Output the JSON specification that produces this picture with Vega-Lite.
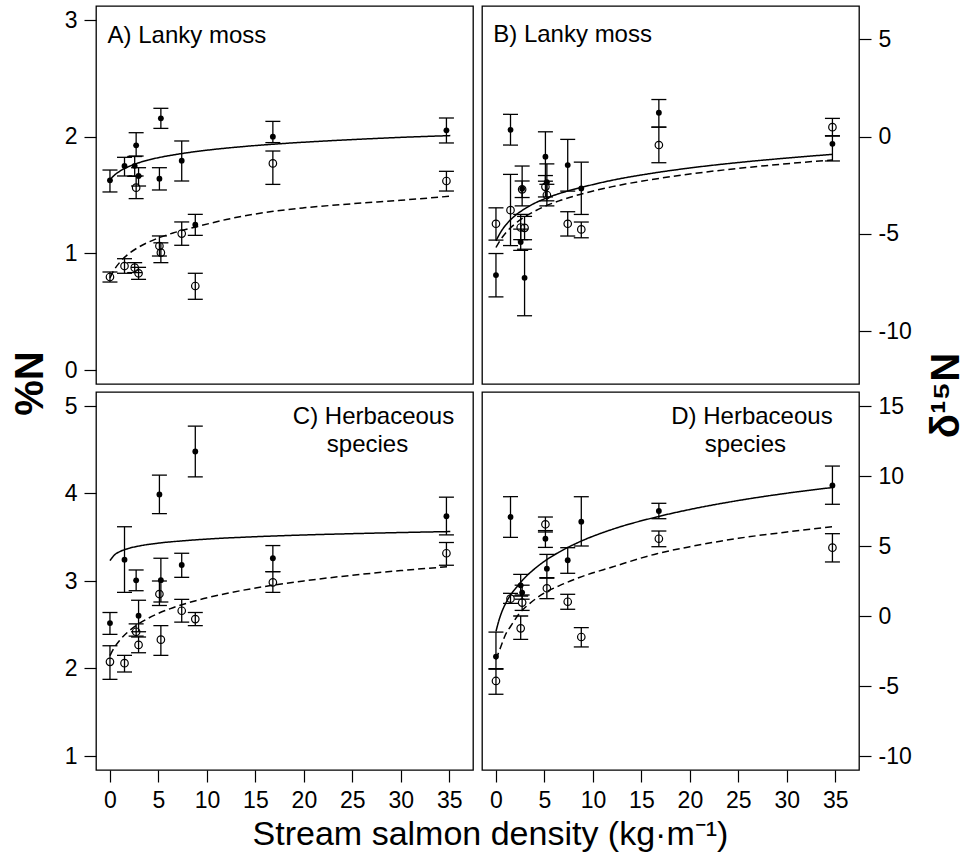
{
"$schema": "https://vega.github.io/schema/vega-lite/v6.json",
"background": "white",
"padding": {"left": 9, "top": 5, "right": 0, "bottom": 0},
"config": {
 "font": "Liberation Sans",
 "view": {"stroke": "black", "strokeWidth": 1.3},
 "axis": {"domain": false, "grid": false, "tickSize": 12, "tickWidth": 1.2, "tickColor": "black", "labelFontSize": 23, "labelColor": "black", "labelFont": "Liberation Sans", "labelPadding": 7, "labelFlush": false, "labelOverlap": false, "titleColor": "black", "titleFont": "Liberation Sans"}
},
"datasets": {
 "pts": [
  {"panel":"A","series":"f","density":0,"value":1.626,"low":1.526,"high":1.714},
  {"panel":"A","series":"f","density":1.5,"value":1.749,"low":1.663,"high":1.823},
  {"panel":"A","series":"f","density":2.55,"value":1.75,"low":1.66,"high":1.83},
  {"panel":"A","series":"f","density":2.7,"value":1.926,"low":1.834,"high":2.034},
  {"panel":"A","series":"f","density":2.95,"value":1.663,"low":1.577,"high":1.734},
  {"panel":"A","series":"f","density":5.1,"value":1.64,"low":1.543,"high":1.734},
  {"panel":"A","series":"f","density":5.25,"value":2.157,"low":2.071,"high":2.243},
  {"panel":"A","series":"f","density":7.4,"value":1.794,"low":1.62,"high":1.963},
  {"panel":"A","series":"f","density":8.8,"value":1.246,"low":1.154,"high":1.334},
  {"panel":"A","series":"f","density":16.8,"value":2.0,"low":1.949,"high":2.131},
  {"panel":"A","series":"f","density":34.7,"value":2.054,"low":1.946,"high":2.16},
  {"panel":"A","series":"o","density":0,"value":0.797,"low":0.754,"high":0.84},
  {"panel":"A","series":"o","density":1.5,"value":0.891,"low":0.829,"high":0.954},
  {"panel":"A","series":"o","density":2.55,"value":0.877,"low":0.835,"high":0.92},
  {"panel":"A","series":"o","density":2.7,"value":1.563,"low":1.469,"high":1.663},
  {"panel":"A","series":"o","density":2.95,"value":0.829,"low":0.777,"high":0.88},
  {"panel":"A","series":"o","density":5.1,"value":1.063,"low":0.977,"high":1.149},
  {"panel":"A","series":"o","density":5.25,"value":1.006,"low":0.92,"high":1.09},
  {"panel":"A","series":"o","density":7.4,"value":1.169,"low":1.069,"high":1.269},
  {"panel":"A","series":"o","density":8.8,"value":0.72,"low":0.606,"high":0.829},
  {"panel":"A","series":"o","density":16.8,"value":1.771,"low":1.591,"high":1.877},
  {"panel":"A","series":"o","density":34.7,"value":1.62,"low":1.534,"high":1.703},

  {"panel":"B","series":"f","density":0,"value":-7.12,"low":-8.24,"high":-6.01},
  {"panel":"B","series":"f","density":1.5,"value":0.35,"low":-0.43,"high":1.15},
  {"panel":"B","series":"f","density":2.55,"value":-5.42,"low":-5.85,"high":-4.75},
  {"panel":"B","series":"f","density":2.7,"value":-2.68,"low":-3.56,"high":-1.51},
  {"panel":"B","series":"f","density":2.95,"value":-7.26,"low":-9.21,"high":-5.79},
  {"panel":"B","series":"f","density":5.1,"value":-1.03,"low":-2.29,"high":0.25},
  {"panel":"B","series":"f","density":5.25,"value":-2.34,"low":-3.3,"high":-1.4},
  {"panel":"B","series":"f","density":7.4,"value":-1.46,"low":-2.8,"high":-0.14},
  {"panel":"B","series":"f","density":8.8,"value":-2.66,"low":-4.0,"high":-1.31},
  {"panel":"B","series":"f","density":16.8,"value":1.23,"low":0.49,"high":1.91},
  {"panel":"B","series":"f","density":34.7,"value":-0.37,"low":-1.25,"high":0.05},
  {"panel":"B","series":"o","density":0,"value":-4.48,"low":-5.32,"high":-3.66},
  {"panel":"B","series":"o","density":1.5,"value":-3.78,"low":-5.6,"high":-1.94},
  {"panel":"B","series":"o","density":2.55,"value":-4.67,"low":-5.3,"high":-4.0},
  {"panel":"B","series":"o","density":2.7,"value":-2.71,"low":-3.13,"high":-2.28},
  {"panel":"B","series":"o","density":2.95,"value":-4.69,"low":-5.3,"high":-4.1},
  {"panel":"B","series":"o","density":5.1,"value":-2.58,"low":-3.1,"high":-2.0},
  {"panel":"B","series":"o","density":5.25,"value":-3.0,"low":-3.56,"high":-2.45},
  {"panel":"B","series":"o","density":7.4,"value":-4.48,"low":-5.11,"high":-3.86},
  {"panel":"B","series":"o","density":8.8,"value":-4.77,"low":-5.2,"high":-4.39},
  {"panel":"B","series":"o","density":16.8,"value":-0.43,"low":-1.34,"high":0.49},
  {"panel":"B","series":"o","density":34.7,"value":0.49,"low":0.03,"high":0.94},

  {"panel":"C","series":"f","density":0,"value":2.519,"low":2.39,"high":2.64},
  {"panel":"C","series":"f","density":1.5,"value":3.244,"low":2.87,"high":3.62},
  {"panel":"C","series":"f","density":2.7,"value":3.008,"low":2.889,"high":3.126},
  {"panel":"C","series":"f","density":2.95,"value":2.603,"low":2.42,"high":2.78},
  {"panel":"C","series":"f","density":5.1,"value":3.989,"low":3.77,"high":4.21},
  {"panel":"C","series":"f","density":5.25,"value":3.01,"low":2.76,"high":3.26},
  {"panel":"C","series":"f","density":7.4,"value":3.183,"low":3.042,"high":3.317},
  {"panel":"C","series":"f","density":8.8,"value":4.48,"low":4.19,"high":4.77},
  {"panel":"C","series":"f","density":16.8,"value":3.26,"low":3.107,"high":3.405},
  {"panel":"C","series":"f","density":34.7,"value":3.74,"low":3.527,"high":3.958},
  {"panel":"C","series":"o","density":0,"value":2.076,"low":1.876,"high":2.26},
  {"panel":"C","series":"o","density":1.5,"value":2.061,"low":1.96,"high":2.15},
  {"panel":"C","series":"o","density":2.7,"value":2.42,"low":2.37,"high":2.51},
  {"panel":"C","series":"o","density":2.95,"value":2.27,"low":2.18,"high":2.36},
  {"panel":"C","series":"o","density":5.1,"value":2.851,"low":2.72,"high":3.0},
  {"panel":"C","series":"o","density":5.25,"value":2.33,"low":2.15,"high":2.49},
  {"panel":"C","series":"o","density":7.4,"value":2.66,"low":2.53,"high":2.79},
  {"panel":"C","series":"o","density":8.8,"value":2.565,"low":2.49,"high":2.64},
  {"panel":"C","series":"o","density":16.8,"value":2.985,"low":2.87,"high":3.107},
  {"panel":"C","series":"o","density":34.7,"value":3.317,"low":3.18,"high":3.44},

  {"panel":"D","series":"f","density":0,"value":-2.9,"low":-3.8,"high":-1.15},
  {"panel":"D","series":"f","density":1.5,"value":7.07,"low":5.62,"high":8.52},
  {"panel":"D","series":"f","density":2.55,"value":2.19,"low":1.43,"high":2.98},
  {"panel":"D","series":"f","density":2.7,"value":1.67,"low":1.2,"high":2.2},
  {"panel":"D","series":"f","density":5.1,"value":5.52,"low":4.9,"high":6.1},
  {"panel":"D","series":"f","density":5.25,"value":3.38,"low":2.7,"high":4.4},
  {"panel":"D","series":"f","density":7.4,"value":3.98,"low":3.05,"high":4.88},
  {"panel":"D","series":"f","density":8.8,"value":6.74,"low":5.0,"high":8.52},
  {"panel":"D","series":"f","density":16.8,"value":7.5,"low":6.95,"high":8.05},
  {"panel":"D","series":"f","density":34.7,"value":9.33,"low":7.98,"high":10.71},
  {"panel":"D","series":"o","density":0,"value":-4.64,"low":-5.59,"high":-3.76},
  {"panel":"D","series":"o","density":1.5,"value":1.24,"low":0.9,"high":1.62},
  {"panel":"D","series":"o","density":2.55,"value":-0.88,"low":-1.67,"high":0.0},
  {"panel":"D","series":"o","density":2.7,"value":0.96,"low":0.4,"high":1.5},
  {"panel":"D","series":"o","density":5.1,"value":6.55,"low":6.0,"high":7.07},
  {"panel":"D","series":"o","density":5.25,"value":1.98,"low":1.24,"high":2.74},
  {"panel":"D","series":"o","density":7.4,"value":1.02,"low":0.48,"high":1.55},
  {"panel":"D","series":"o","density":8.8,"value":-1.5,"low":-2.21,"high":-0.83},
  {"panel":"D","series":"o","density":16.8,"value":5.52,"low":4.95,"high":6.07},
  {"panel":"D","series":"o","density":34.7,"value":4.88,"low":3.86,"high":5.88}
 ],
 "fit": [
  {"panel":"A","series":"f","density":0,"value":1.63},{"panel":"A","series":"f","density":0.5,"value":1.673},{"panel":"A","series":"f","density":1,"value":1.703},{"panel":"A","series":"f","density":2,"value":1.746},{"panel":"A","series":"f","density":3,"value":1.777},{"panel":"A","series":"f","density":4,"value":1.801},{"panel":"A","series":"f","density":5,"value":1.82},{"panel":"A","series":"f","density":7,"value":1.85},{"panel":"A","series":"f","density":10,"value":1.884},{"panel":"A","series":"f","density":14,"value":1.917},{"panel":"A","series":"f","density":18,"value":1.942},{"panel":"A","series":"f","density":22,"value":1.962},{"panel":"A","series":"f","density":26,"value":1.979},{"panel":"A","series":"f","density":30,"value":1.994},{"panel":"A","series":"f","density":35.1,"value":2.009},
  {"panel":"A","series":"o","density":0,"value":0.79},{"panel":"A","series":"o","density":0.5,"value":0.867},{"panel":"A","series":"o","density":1,"value":0.922},{"panel":"A","series":"o","density":2,"value":1.0},{"panel":"A","series":"o","density":3,"value":1.055},{"panel":"A","series":"o","density":4,"value":1.097},{"panel":"A","series":"o","density":5,"value":1.132},{"panel":"A","series":"o","density":6.5,"value":1.174},{"panel":"A","series":"o","density":8.85,"value":1.226},{"panel":"A","series":"o","density":12,"value":1.29},{"panel":"A","series":"o","density":16.84,"value":1.36},{"panel":"A","series":"o","density":20,"value":1.39},{"panel":"A","series":"o","density":25,"value":1.425},{"panel":"A","series":"o","density":30,"value":1.455},{"panel":"A","series":"o","density":35.1,"value":1.49},
  {"panel":"B","series":"f","density":0,"value":-5.36},{"panel":"B","series":"f","density":0.5,"value":-4.9},{"panel":"B","series":"f","density":1,"value":-4.55},{"panel":"B","series":"f","density":2,"value":-4.05},{"panel":"B","series":"f","density":3,"value":-3.7},{"panel":"B","series":"f","density":4,"value":-3.42},{"panel":"B","series":"f","density":5,"value":-3.2},{"panel":"B","series":"f","density":6.5,"value":-2.93},{"panel":"B","series":"f","density":8.66,"value":-2.63},{"panel":"B","series":"f","density":12,"value":-2.24},{"panel":"B","series":"f","density":16,"value":-1.89},{"panel":"B","series":"f","density":20,"value":-1.61},{"panel":"B","series":"f","density":25,"value":-1.33},{"panel":"B","series":"f","density":30,"value":-1.1},{"panel":"B","series":"f","density":34.7,"value":-0.91},
  {"panel":"B","series":"o","density":0,"value":-5.7},{"panel":"B","series":"o","density":0.5,"value":-5.28},{"panel":"B","series":"o","density":1,"value":-4.95},{"panel":"B","series":"o","density":2,"value":-4.47},{"panel":"B","series":"o","density":3,"value":-4.11},{"panel":"B","series":"o","density":4,"value":-3.83},{"panel":"B","series":"o","density":5,"value":-3.59},{"panel":"B","series":"o","density":6.5,"value":-3.3},{"panel":"B","series":"o","density":8.66,"value":-2.97},{"panel":"B","series":"o","density":12,"value":-2.57},{"panel":"B","series":"o","density":16,"value":-2.21},{"panel":"B","series":"o","density":20,"value":-1.92},{"panel":"B","series":"o","density":25,"value":-1.63},{"panel":"B","series":"o","density":30,"value":-1.39},{"panel":"B","series":"o","density":34.7,"value":-1.2},
  {"panel":"C","series":"f","density":0,"value":3.233},{"panel":"C","series":"f","density":0.5,"value":3.301},{"panel":"C","series":"f","density":1,"value":3.335},{"panel":"C","series":"f","density":2,"value":3.375},{"panel":"C","series":"f","density":3,"value":3.4},{"panel":"C","series":"f","density":5,"value":3.433},{"panel":"C","series":"f","density":7.5,"value":3.459},{"panel":"C","series":"f","density":10,"value":3.479},{"panel":"C","series":"f","density":15,"value":3.506},{"panel":"C","series":"f","density":20,"value":3.526},{"panel":"C","series":"f","density":25,"value":3.541},{"panel":"C","series":"f","density":30,"value":3.554},{"panel":"C","series":"f","density":35.1,"value":3.565},
  {"panel":"C","series":"o","density":0,"value":2.148},{"panel":"C","series":"o","density":0.5,"value":2.248},{"panel":"C","series":"o","density":1,"value":2.322},{"panel":"C","series":"o","density":2,"value":2.432},{"panel":"C","series":"o","density":3,"value":2.513},{"panel":"C","series":"o","density":4,"value":2.577},{"panel":"C","series":"o","density":5,"value":2.63},{"panel":"C","series":"o","density":6.5,"value":2.695},{"panel":"C","series":"o","density":8.85,"value":2.775},{"panel":"C","series":"o","density":12,"value":2.857},{"panel":"C","series":"o","density":16,"value":2.938},{"panel":"C","series":"o","density":20,"value":3.001},{"panel":"C","series":"o","density":25,"value":3.066},{"panel":"C","series":"o","density":30,"value":3.119},{"panel":"C","series":"o","density":35.1,"value":3.165},
  {"panel":"D","series":"f","density":0,"value":-1.11},{"panel":"D","series":"f","density":0.25,"value":-0.45},{"panel":"D","series":"f","density":0.5,"value":0.1},{"panel":"D","series":"f","density":1,"value":0.9},{"panel":"D","series":"f","density":1.5,"value":1.5},{"panel":"D","series":"f","density":2,"value":1.95},{"panel":"D","series":"f","density":3,"value":2.75},{"panel":"D","series":"f","density":4,"value":3.38},{"panel":"D","series":"f","density":5,"value":3.91},{"panel":"D","series":"f","density":6.5,"value":4.56},{"panel":"D","series":"f","density":8.6,"value":5.29},{"panel":"D","series":"f","density":12,"value":6.19},{"panel":"D","series":"f","density":16.6,"value":7.08},{"panel":"D","series":"f","density":20,"value":7.61},{"panel":"D","series":"f","density":25,"value":8.25},{"panel":"D","series":"f","density":30,"value":8.77},{"panel":"D","series":"f","density":34.6,"value":9.17},
  {"panel":"D","series":"o","density":0,"value":-3.1},{"panel":"D","series":"o","density":0.5,"value":-2.2},{"panel":"D","series":"o","density":1,"value":-1.3},{"panel":"D","series":"o","density":1.5,"value":-0.75},{"panel":"D","series":"o","density":2.5,"value":0.25},{"panel":"D","series":"o","density":3.5,"value":0.9},{"panel":"D","series":"o","density":5,"value":1.65},{"panel":"D","series":"o","density":6.5,"value":2.15},{"panel":"D","series":"o","density":8.6,"value":2.75},{"panel":"D","series":"o","density":12,"value":3.5},{"panel":"D","series":"o","density":16.6,"value":4.45},{"panel":"D","series":"o","density":20,"value":4.95},{"panel":"D","series":"o","density":25,"value":5.55},{"panel":"D","series":"o","density":30,"value":6.0},{"panel":"D","series":"o","density":35,"value":6.4}
 ]
},
"columns": 2,
"bounds": "flush",
"spacing": {"row": 8, "column": 9},
"concat": [
 {
  "width": 377, "height": 378,
  "encoding": {
   "x": {"field": "density", "type": "quantitative", "scale": {"domain": [-1.44, 37.44], "nice": false, "zero": false}, "axis": null}
  },
  "layer": [
   {"data": {"name": "fit"}, "transform": [{"filter": "datum.panel === 'A'"}],
    "mark": {"type": "line", "color": "black", "strokeWidth": 1.5, "interpolate": "monotone"},
    "encoding": {"y": {"field": "value", "type": "quantitative", "scale": {"domain": [-0.12, 3.12], "nice": false, "zero": false}, "axis": {"values": [0,1,2,3], "labelExpr": "'' + datum.value", "title": "%N", "titleFontSize": 40, "titleFontWeight": "bold", "titleAngle": 270, "titleAlign": "center", "titleBaseline": "middle", "titleX": -66, "titleY": 377}},
     "strokeDash": {"field": "series", "type": "nominal", "scale": {"domain": ["f","o"], "range": [[1,0],[7,4]]}, "legend": null}}},
   {"data": {"name": "pts"}, "transform": [{"filter": "datum.panel === 'A'"}],
    "mark": {"type": "rule", "color": "black", "strokeWidth": 1.3},
    "encoding": {"y": {"field": "low", "type": "quantitative", "scale": {"domain": [-0.12, 3.12], "nice": false, "zero": false}, "axis": {"values": [0,1,2,3], "labelExpr": "'' + datum.value", "title": "%N", "titleFontSize": 40, "titleFontWeight": "bold", "titleAngle": 270, "titleAlign": "center", "titleBaseline": "middle", "titleX": -66, "titleY": 377}}, "y2": {"field": "high"}}},
   {"data": {"name": "pts"}, "transform": [{"filter": "datum.panel === 'A'"}],
    "mark": {"type": "tick", "orient": "horizontal", "size": 15, "thickness": 1.3, "color": "black", "opacity": 1},
    "encoding": {"y": {"field": "low", "type": "quantitative", "scale": {"domain": [-0.12, 3.12], "nice": false, "zero": false}, "axis": {"values": [0,1,2,3], "labelExpr": "'' + datum.value", "title": "%N", "titleFontSize": 40, "titleFontWeight": "bold", "titleAngle": 270, "titleAlign": "center", "titleBaseline": "middle", "titleX": -66, "titleY": 377}}}},
   {"data": {"name": "pts"}, "transform": [{"filter": "datum.panel === 'A'"}],
    "mark": {"type": "tick", "orient": "horizontal", "size": 15, "thickness": 1.3, "color": "black", "opacity": 1},
    "encoding": {"y": {"field": "high", "type": "quantitative", "scale": {"domain": [-0.12, 3.12], "nice": false, "zero": false}, "axis": {"values": [0,1,2,3], "labelExpr": "'' + datum.value", "title": "%N", "titleFontSize": 40, "titleFontWeight": "bold", "titleAngle": 270, "titleAlign": "center", "titleBaseline": "middle", "titleX": -66, "titleY": 377}}}},
   {"data": {"name": "pts"}, "transform": [{"filter": "datum.panel === 'A' && datum.series === 'f'"}],
    "mark": {"type": "point", "shape": "circle", "filled": true, "size": 34, "color": "black", "opacity": 1},
    "encoding": {"y": {"field": "value", "type": "quantitative", "scale": {"domain": [-0.12, 3.12], "nice": false, "zero": false}, "axis": {"values": [0,1,2,3], "labelExpr": "'' + datum.value", "title": "%N", "titleFontSize": 40, "titleFontWeight": "bold", "titleAngle": 270, "titleAlign": "center", "titleBaseline": "middle", "titleX": -66, "titleY": 377}}}},
   {"data": {"name": "pts"}, "transform": [{"filter": "datum.panel === 'A' && datum.series === 'o'"}],
    "mark": {"type": "point", "shape": "circle", "filled": false, "size": 56, "strokeWidth": 1.2, "color": "black", "opacity": 1},
    "encoding": {"y": {"field": "value", "type": "quantitative", "scale": {"domain": [-0.12, 3.12], "nice": false, "zero": false}, "axis": {"values": [0,1,2,3], "labelExpr": "'' + datum.value", "title": "%N", "titleFontSize": 40, "titleFontWeight": "bold", "titleAngle": 270, "titleAlign": "center", "titleBaseline": "middle", "titleX": -66, "titleY": 377}}}},
   {"data": {"name": "pts"}, "transform": [{"filter": "datum.panel === 'A' && datum.series === 'f' && datum.density === 0"}],
    "mark": {"type": "text", "align": "left", "baseline": "alphabetic", "fontSize": 24, "font": "Liberation Sans", "color": "black", "opacity": 1},
    "encoding": {"x": {"datum": -0.25, "type": "quantitative"},
     "y": {"datum": 2.8, "type": "quantitative"},
     "text": {"value": "A) Lanky moss"}}}
  ]
 },
 {
  "width": 377, "height": 378,
  "encoding": {
   "x": {"field": "density", "type": "quantitative", "scale": {"domain": [-1.44, 37.44], "nice": false, "zero": false}, "axis": null}
  },
  "layer": [
   {"data": {"name": "fit"}, "transform": [{"filter": "datum.panel === 'B'"}],
    "mark": {"type": "line", "color": "black", "strokeWidth": 1.5, "interpolate": "monotone"},
    "encoding": {"y": {"field": "value", "type": "quantitative", "scale": {"domain": [-12.72, 6.72], "nice": false, "zero": false}, "axis": {"orient": "right", "values": [-10,-5,0,5], "labelExpr": "datum.value < 0 ? '-' + (-datum.value) : '' + datum.value", "title": "δ¹⁵N", "titleFontSize": 40, "titleFontWeight": "bold", "titleAngle": 270, "titleAlign": "center", "titleBaseline": "middle", "titleX": 87, "titleY": 389}},
     "strokeDash": {"field": "series", "type": "nominal", "scale": {"domain": ["f","o"], "range": [[1,0],[7,4]]}, "legend": null}}},
   {"data": {"name": "pts"}, "transform": [{"filter": "datum.panel === 'B'"}],
    "mark": {"type": "rule", "color": "black", "strokeWidth": 1.3},
    "encoding": {"y": {"field": "low", "type": "quantitative", "scale": {"domain": [-12.72, 6.72], "nice": false, "zero": false}, "axis": {"orient": "right", "values": [-10,-5,0,5], "labelExpr": "datum.value < 0 ? '-' + (-datum.value) : '' + datum.value", "title": "δ¹⁵N", "titleFontSize": 40, "titleFontWeight": "bold", "titleAngle": 270, "titleAlign": "center", "titleBaseline": "middle", "titleX": 87, "titleY": 389}}, "y2": {"field": "high"}}},
   {"data": {"name": "pts"}, "transform": [{"filter": "datum.panel === 'B'"}],
    "mark": {"type": "tick", "orient": "horizontal", "size": 15, "thickness": 1.3, "color": "black", "opacity": 1},
    "encoding": {"y": {"field": "low", "type": "quantitative", "scale": {"domain": [-12.72, 6.72], "nice": false, "zero": false}, "axis": {"orient": "right", "values": [-10,-5,0,5], "labelExpr": "datum.value < 0 ? '-' + (-datum.value) : '' + datum.value", "title": "δ¹⁵N", "titleFontSize": 40, "titleFontWeight": "bold", "titleAngle": 270, "titleAlign": "center", "titleBaseline": "middle", "titleX": 87, "titleY": 389}}}},
   {"data": {"name": "pts"}, "transform": [{"filter": "datum.panel === 'B'"}],
    "mark": {"type": "tick", "orient": "horizontal", "size": 15, "thickness": 1.3, "color": "black", "opacity": 1},
    "encoding": {"y": {"field": "high", "type": "quantitative", "scale": {"domain": [-12.72, 6.72], "nice": false, "zero": false}, "axis": {"orient": "right", "values": [-10,-5,0,5], "labelExpr": "datum.value < 0 ? '-' + (-datum.value) : '' + datum.value", "title": "δ¹⁵N", "titleFontSize": 40, "titleFontWeight": "bold", "titleAngle": 270, "titleAlign": "center", "titleBaseline": "middle", "titleX": 87, "titleY": 389}}}},
   {"data": {"name": "pts"}, "transform": [{"filter": "datum.panel === 'B' && datum.series === 'f'"}],
    "mark": {"type": "point", "shape": "circle", "filled": true, "size": 34, "color": "black", "opacity": 1},
    "encoding": {"y": {"field": "value", "type": "quantitative", "scale": {"domain": [-12.72, 6.72], "nice": false, "zero": false}, "axis": {"orient": "right", "values": [-10,-5,0,5], "labelExpr": "datum.value < 0 ? '-' + (-datum.value) : '' + datum.value", "title": "δ¹⁵N", "titleFontSize": 40, "titleFontWeight": "bold", "titleAngle": 270, "titleAlign": "center", "titleBaseline": "middle", "titleX": 87, "titleY": 389}}}},
   {"data": {"name": "pts"}, "transform": [{"filter": "datum.panel === 'B' && datum.series === 'o'"}],
    "mark": {"type": "point", "shape": "circle", "filled": false, "size": 56, "strokeWidth": 1.2, "color": "black", "opacity": 1},
    "encoding": {"y": {"field": "value", "type": "quantitative", "scale": {"domain": [-12.72, 6.72], "nice": false, "zero": false}, "axis": {"orient": "right", "values": [-10,-5,0,5], "labelExpr": "datum.value < 0 ? '-' + (-datum.value) : '' + datum.value", "title": "δ¹⁵N", "titleFontSize": 40, "titleFontWeight": "bold", "titleAngle": 270, "titleAlign": "center", "titleBaseline": "middle", "titleX": 87, "titleY": 389}}}},
   {"data": {"name": "pts"}, "transform": [{"filter": "datum.panel === 'B' && datum.series === 'f' && datum.density === 0"}],
    "mark": {"type": "text", "align": "left", "baseline": "alphabetic", "fontSize": 24, "font": "Liberation Sans", "color": "black", "opacity": 1},
    "encoding": {"x": {"datum": -0.28, "type": "quantitative"},
     "y": {"datum": 4.88, "type": "quantitative"},
     "text": {"value": "B) Lanky moss"}}}
  ]
 },
 {
  "width": 377, "height": 378,
  "encoding": {
   "x": {"field": "density", "type": "quantitative", "scale": {"domain": [-1.44, 37.44], "nice": false, "zero": false}, "axis": {"values": [0,5,10,15,20,25,30,35], "title": "Stream salmon density (kg·m⁻¹)", "titleFontSize": 34, "titleFontWeight": "normal", "titleX": 394, "titleY": 74, "titleAlign": "center", "titleBaseline": "alphabetic"}}
  },
  "layer": [
   {"data": {"name": "fit"}, "transform": [{"filter": "datum.panel === 'C'"}],
    "mark": {"type": "line", "color": "black", "strokeWidth": 1.5, "interpolate": "monotone"},
    "encoding": {"y": {"field": "value", "type": "quantitative", "scale": {"domain": [0.84, 5.16], "nice": false, "zero": false}, "axis": {"values": [1,2,3,4,5], "labelExpr": "'' + datum.value", "title": null}},
     "strokeDash": {"field": "series", "type": "nominal", "scale": {"domain": ["f","o"], "range": [[1,0],[7,4]]}, "legend": null}}},
   {"data": {"name": "pts"}, "transform": [{"filter": "datum.panel === 'C'"}],
    "mark": {"type": "rule", "color": "black", "strokeWidth": 1.3},
    "encoding": {"y": {"field": "low", "type": "quantitative", "scale": {"domain": [0.84, 5.16], "nice": false, "zero": false}, "axis": {"values": [1,2,3,4,5], "labelExpr": "'' + datum.value", "title": null}}, "y2": {"field": "high"}}},
   {"data": {"name": "pts"}, "transform": [{"filter": "datum.panel === 'C'"}],
    "mark": {"type": "tick", "orient": "horizontal", "size": 15, "thickness": 1.3, "color": "black", "opacity": 1},
    "encoding": {"y": {"field": "low", "type": "quantitative", "scale": {"domain": [0.84, 5.16], "nice": false, "zero": false}, "axis": {"values": [1,2,3,4,5], "labelExpr": "'' + datum.value", "title": null}}}},
   {"data": {"name": "pts"}, "transform": [{"filter": "datum.panel === 'C'"}],
    "mark": {"type": "tick", "orient": "horizontal", "size": 15, "thickness": 1.3, "color": "black", "opacity": 1},
    "encoding": {"y": {"field": "high", "type": "quantitative", "scale": {"domain": [0.84, 5.16], "nice": false, "zero": false}, "axis": {"values": [1,2,3,4,5], "labelExpr": "'' + datum.value", "title": null}}}},
   {"data": {"name": "pts"}, "transform": [{"filter": "datum.panel === 'C' && datum.series === 'f'"}],
    "mark": {"type": "point", "shape": "circle", "filled": true, "size": 34, "color": "black", "opacity": 1},
    "encoding": {"y": {"field": "value", "type": "quantitative", "scale": {"domain": [0.84, 5.16], "nice": false, "zero": false}, "axis": {"values": [1,2,3,4,5], "labelExpr": "'' + datum.value", "title": null}}}},
   {"data": {"name": "pts"}, "transform": [{"filter": "datum.panel === 'C' && datum.series === 'o'"}],
    "mark": {"type": "point", "shape": "circle", "filled": false, "size": 56, "strokeWidth": 1.2, "color": "black", "opacity": 1},
    "encoding": {"y": {"field": "value", "type": "quantitative", "scale": {"domain": [0.84, 5.16], "nice": false, "zero": false}, "axis": {"values": [1,2,3,4,5], "labelExpr": "'' + datum.value", "title": null}}}},
   {"data": {"name": "pts"}, "transform": [{"filter": "datum.panel === 'C' && datum.series === 'f' && datum.density === 0"}],
    "mark": {"type": "text", "align": "center", "baseline": "alphabetic", "fontSize": 24, "font": "Liberation Sans", "color": "black", "opacity": 1},
    "encoding": {"x": {"datum": 27.18, "type": "quantitative"},
     "y": {"datum": 4.79, "type": "quantitative"},
     "text": {"value": "C) Herbaceous"}}},
   {"data": {"name": "pts"}, "transform": [{"filter": "datum.panel === 'C' && datum.series === 'f' && datum.density === 0"}],
    "mark": {"type": "text", "align": "center", "baseline": "alphabetic", "fontSize": 24, "font": "Liberation Sans", "color": "black", "opacity": 1},
    "encoding": {"x": {"datum": 26.56, "type": "quantitative"},
     "y": {"datum": 4.478, "type": "quantitative"},
     "text": {"value": "species"}}}
  ]
 },
 {
  "width": 377, "height": 378,
  "encoding": {
   "x": {"field": "density", "type": "quantitative", "scale": {"domain": [-1.44, 37.44], "nice": false, "zero": false}, "axis": {"values": [0,5,10,15,20,25,30,35], "title": null}}
  },
  "layer": [
   {"data": {"name": "fit"}, "transform": [{"filter": "datum.panel === 'D'"}],
    "mark": {"type": "line", "color": "black", "strokeWidth": 1.5, "interpolate": "monotone"},
    "encoding": {"y": {"field": "value", "type": "quantitative", "scale": {"domain": [-11, 16], "nice": false, "zero": false}, "axis": {"orient": "right", "values": [-10,-5,0,5,10,15], "labelExpr": "datum.value < 0 ? '-' + (-datum.value) : '' + datum.value", "title": null}},
     "strokeDash": {"field": "series", "type": "nominal", "scale": {"domain": ["f","o"], "range": [[1,0],[7,4]]}, "legend": null}}},
   {"data": {"name": "pts"}, "transform": [{"filter": "datum.panel === 'D'"}],
    "mark": {"type": "rule", "color": "black", "strokeWidth": 1.3},
    "encoding": {"y": {"field": "low", "type": "quantitative", "scale": {"domain": [-11, 16], "nice": false, "zero": false}, "axis": {"orient": "right", "values": [-10,-5,0,5,10,15], "labelExpr": "datum.value < 0 ? '-' + (-datum.value) : '' + datum.value", "title": null}}, "y2": {"field": "high"}}},
   {"data": {"name": "pts"}, "transform": [{"filter": "datum.panel === 'D'"}],
    "mark": {"type": "tick", "orient": "horizontal", "size": 15, "thickness": 1.3, "color": "black", "opacity": 1},
    "encoding": {"y": {"field": "low", "type": "quantitative", "scale": {"domain": [-11, 16], "nice": false, "zero": false}, "axis": {"orient": "right", "values": [-10,-5,0,5,10,15], "labelExpr": "datum.value < 0 ? '-' + (-datum.value) : '' + datum.value", "title": null}}}},
   {"data": {"name": "pts"}, "transform": [{"filter": "datum.panel === 'D'"}],
    "mark": {"type": "tick", "orient": "horizontal", "size": 15, "thickness": 1.3, "color": "black", "opacity": 1},
    "encoding": {"y": {"field": "high", "type": "quantitative", "scale": {"domain": [-11, 16], "nice": false, "zero": false}, "axis": {"orient": "right", "values": [-10,-5,0,5,10,15], "labelExpr": "datum.value < 0 ? '-' + (-datum.value) : '' + datum.value", "title": null}}}},
   {"data": {"name": "pts"}, "transform": [{"filter": "datum.panel === 'D' && datum.series === 'f'"}],
    "mark": {"type": "point", "shape": "circle", "filled": true, "size": 34, "color": "black", "opacity": 1},
    "encoding": {"y": {"field": "value", "type": "quantitative", "scale": {"domain": [-11, 16], "nice": false, "zero": false}, "axis": {"orient": "right", "values": [-10,-5,0,5,10,15], "labelExpr": "datum.value < 0 ? '-' + (-datum.value) : '' + datum.value", "title": null}}}},
   {"data": {"name": "pts"}, "transform": [{"filter": "datum.panel === 'D' && datum.series === 'o'"}],
    "mark": {"type": "point", "shape": "circle", "filled": false, "size": 56, "strokeWidth": 1.2, "color": "black", "opacity": 1},
    "encoding": {"y": {"field": "value", "type": "quantitative", "scale": {"domain": [-11, 16], "nice": false, "zero": false}, "axis": {"orient": "right", "values": [-10,-5,0,5,10,15], "labelExpr": "datum.value < 0 ? '-' + (-datum.value) : '' + datum.value", "title": null}}}},
   {"data": {"name": "pts"}, "transform": [{"filter": "datum.panel === 'D' && datum.series === 'f' && datum.density === 0"}],
    "mark": {"type": "text", "align": "center", "baseline": "alphabetic", "fontSize": 24, "font": "Liberation Sans", "color": "black", "opacity": 1},
    "encoding": {"x": {"datum": 26.4, "type": "quantitative"},
     "y": {"datum": 13.69, "type": "quantitative"},
     "text": {"value": "D) Herbaceous"}}},
   {"data": {"name": "pts"}, "transform": [{"filter": "datum.panel === 'D' && datum.series === 'f' && datum.density === 0"}],
    "mark": {"type": "text", "align": "center", "baseline": "alphabetic", "fontSize": 24, "font": "Liberation Sans", "color": "black", "opacity": 1},
    "encoding": {"x": {"datum": 25.72, "type": "quantitative"},
     "y": {"datum": 11.74, "type": "quantitative"},
     "text": {"value": "species"}}}
  ]
 }
]
}
